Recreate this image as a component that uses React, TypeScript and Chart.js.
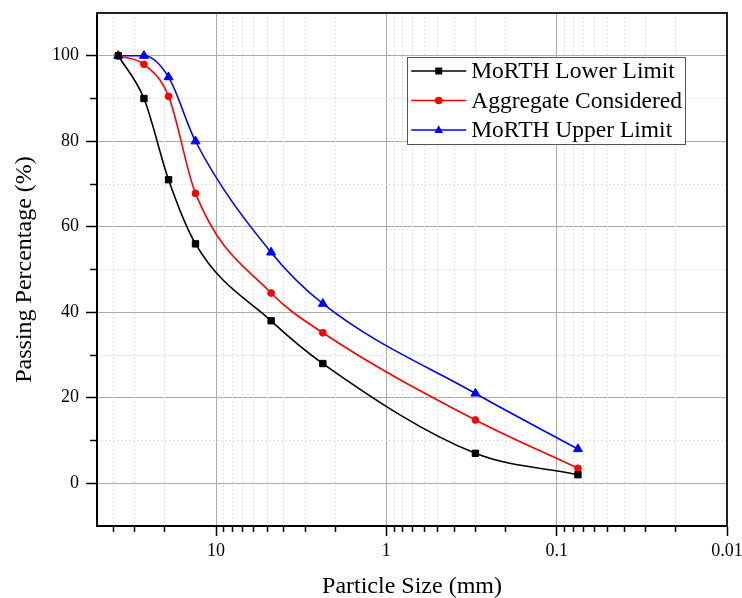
import React, { useEffect, useRef } from "react";
import { Chart, registerables } from "chart.js";

Chart.register(...registerables);

// Sieve sizes (mm) and passing percentages
const sieveSizes = [37.5, 26.5, 19, 13.2, 4.75, 2.36, 0.3, 0.075];
const lowerLimit = [100, 90, 71, 56, 38, 28, 7, 2];
const aggregateConsidered = [100, 98, 90.5, 67.8, 44.5, 35.2, 14.8, 3.5];
const upperLimit = [100, 100, 95, 80, 54, 42, 21, 8];
const seriesLabels = ["MoRTH Lower Limit", "Aggregate Considered", "MoRTH Upper Limit"];
const seriesColors = ["#000000", "#ff0000", "#0000ff"];
const seriesMarkers = ["rect", "circle", "triangle"];

// Axis ticks
const xMajorTicks = [10, 1, 0.1, 0.01];
const xMinorTicks = [
  40, 30, 20,
  9, 8, 7, 6, 5, 4, 3, 2,
  0.9, 0.8, 0.7, 0.6, 0.5, 0.4, 0.3, 0.2,
  0.09, 0.08, 0.07, 0.06, 0.05, 0.04, 0.03, 0.02,
];
const yMajorTicks = [0, 20, 40, 60, 80, 100];
const yMinorTicks = [10, 30, 50, 70, 90];

const X_MIN = 0.01;
const X_MAX = 50;
const Y_MIN = -10;
const Y_MAX = 110;

const SERIF = '"Liberation Serif", "Times New Roman", serif';

const boxLegend = {
  id: "boxLegend",
  afterDraw(chart: any) {
    const { ctx, chartArea } = chart;
    const datasets = chart.data.datasets;
    ctx.save();
    ctx.font = `23.5px ${SERIF}`;
    let maxW = 0;
    datasets.forEach((d: any) => {
      maxW = Math.max(maxW, ctx.measureText(d.label).width);
    });
    const padL = 4;
    const lineLen = 55;
    const gap = 5;
    const padR = 3;
    const rowH = 29.5;
    const padT = 14;
    const w = padL + lineLen + gap + maxW + padR;
    const h = padT * 2 + rowH * (datasets.length - 1);
    const right = chartArea.right - 42;
    const left = right - w;
    const top = chartArea.top + 44;
    ctx.fillStyle = "#ffffff";
    ctx.fillRect(left, top, w, h);
    ctx.strokeStyle = "#555555";
    ctx.lineWidth = 1;
    ctx.strokeRect(Math.round(left) + 0.5, Math.round(top) + 0.5, Math.round(w), Math.round(h));
    datasets.forEach((d: any, i: number) => {
      const y = top + padT + i * rowH;
      const x0 = left + padL;
      const x1 = x0 + lineLen;
      const mx = (x0 + x1) / 2;
      ctx.strokeStyle = d.borderColor;
      ctx.fillStyle = d.borderColor;
      ctx.lineWidth = 1.6;
      ctx.beginPath();
      ctx.moveTo(x0, y);
      ctx.lineTo(x1, y);
      ctx.stroke();
      ctx.beginPath();
      if (d.pointStyle === "rect") {
        ctx.rect(mx - 3.5, y - 3.5, 7, 7);
      } else if (d.pointStyle === "circle") {
        ctx.arc(mx, y, 3.8, 0, Math.PI * 2);
      } else {
        ctx.moveTo(mx, y - 4.8);
        ctx.lineTo(mx + 4.3, y + 3);
        ctx.lineTo(mx - 4.3, y + 3);
        ctx.closePath();
      }
      ctx.fill();
      ctx.fillStyle = "#000000";
      ctx.textAlign = "left";
      ctx.textBaseline = "middle";
      ctx.fillText(d.label, x1 + gap, y + 1);
    });
    ctx.restore();
  },
};

export default function App() {
  const canvasRef = useRef<HTMLCanvasElement | null>(null);

  useEffect(() => {
    const canvas = canvasRef.current;
    if (!canvas) return;
    const seriesValues = [lowerLimit, aggregateConsidered, upperLimit];
    const datasets = seriesValues.map((vals, i) => ({
      label: seriesLabels[i],
      data: sieveSizes.map((s, j) => ({ x: s, y: vals[j] })),
      xAxisID: "x",
      yAxisID: "y",
      borderColor: seriesColors[i],
      backgroundColor: seriesColors[i],
      borderWidth: 1.6,
      pointStyle: seriesMarkers[i],
      pointRadius: i === 0 ? 4.5 : i === 1 ? 3.4 : 5.2,
      pointBorderWidth: 1,
      pointBackgroundColor: seriesColors[i],
      pointBorderColor: seriesColors[i],
      cubicInterpolationMode: "monotone" as const,
      tension: 0.4,
      fill: false,
      clip: false as any,
    }));

    const tickFont = { family: SERIF, size: 18 };
    const titleFont = { family: SERIF, size: 24, lineHeight: 1 };

    const chart = new Chart(canvas, {
      type: "line",
      data: { datasets },
      plugins: [boxLegend],
      options: {
        animation: false,
        responsive: false,
        devicePixelRatio: 1,
        layout: { padding: { top: 13, right: 15, left: 0, bottom: 0 } },
        plugins: {
          legend: { display: false },
          tooltip: { enabled: false },
        },
        scales: {
          x: {
            type: "logarithmic",
            position: "bottom",
            reverse: true,
            min: X_MIN,
            max: X_MAX,
            afterBuildTicks: (scale: any) => {
              scale.ticks = xMajorTicks.map((v) => ({ value: v }));
            },
            afterFit: (scale: any) => {
              scale.height = 72;
              scale.paddingLeft = 0;
              scale.paddingRight = 0;
            },
            ticks: {
              autoSkip: false,
              maxRotation: 0,
              padding: 4,
              color: "#000",
              font: tickFont,
              callback: (v: any) => String(v),
            },
            grid: {
              color: "#ababab",
              lineWidth: 1,
              tickColor: "#000",
              tickLength: 10,
              tickWidth: 1.5,
            },
            border: { display: true, color: "#000", width: 2 },
            title: {
              display: true,
              text: "Particle Size (mm)",
              color: "#000",
              font: titleFont,
              padding: { top: 0, bottom: -1 },
            },
          },
          y: {
            type: "linear",
            position: "left",
            min: Y_MIN,
            max: Y_MAX,
            afterBuildTicks: (scale: any) => {
              scale.ticks = yMajorTicks.map((v) => ({ value: v }));
            },
            afterFit: (scale: any) => {
              scale.width = 97;
              scale.paddingTop = 0;
              scale.paddingBottom = 0;
            },
            ticks: {
              autoSkip: false,
              padding: 7,
              color: "#000",
              font: tickFont,
              callback: (v: any) => String(v),
            },
            grid: {
              color: "#ababab",
              lineWidth: 1,
              tickColor: "#000",
              tickLength: 11,
              tickWidth: 1.5,
            },
            border: { display: true, color: "#000", width: 2 },
            title: {
              display: true,
              text: "Passing Percentage (%)",
              color: "#000",
              font: titleFont,
              padding: { top: 13, bottom: 0 },
            },
          },
          xMinor: {
            type: "logarithmic",
            position: { y: Y_MIN } as any,
            reverse: true,
            min: X_MIN,
            max: X_MAX,
            afterBuildTicks: (scale: any) => {
              scale.ticks = xMinorTicks.map((v) => ({ value: v }));
            },
            ticks: { display: false, autoSkip: false },
            grid: {
              color: "#e2e2e2",
              lineWidth: 1,
              tickColor: "#000",
              tickLength: 6,
              tickWidth: 1.5,
            },
            border: { display: false, dash: [2, 2] },
          },
          yMinor: {
            type: "linear",
            position: { x: X_MAX } as any,
            min: Y_MIN,
            max: Y_MAX,
            afterBuildTicks: (scale: any) => {
              scale.ticks = yMinorTicks.map((v) => ({ value: v }));
            },
            ticks: { display: false, autoSkip: false },
            grid: {
              color: "#e2e2e2",
              lineWidth: 1,
              tickColor: "#000",
              tickLength: 7,
              tickWidth: 1.5,
            },
            border: { display: false, dash: [2, 2] },
          },
          xTop: {
            type: "linear",
            position: "top",
            min: 0,
            max: 1,
            ticks: { display: false },
            grid: { display: false, drawTicks: false },
            border: { display: true, color: "#222", width: 2 },
          },
          yRight: {
            type: "linear",
            position: "right",
            min: 0,
            max: 1,
            ticks: { display: false },
            grid: { display: false, drawTicks: false },
            border: { display: true, color: "#222", width: 2 },
          },
        } as any,
      },
    });
    return () => chart.destroy();
  }, []);

  return (
    <div style={{ position: "absolute", left: 0, top: 0, width: 742, height: 598, background: "#fff" }}>
      <canvas ref={canvasRef} width={742} height={598} style={{ display: "block", width: 742, height: 598 }} />
    </div>
  );
}
